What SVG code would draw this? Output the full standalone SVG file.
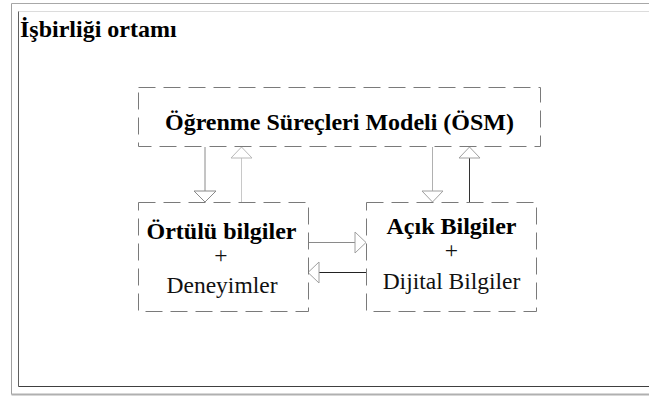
<svg xmlns="http://www.w3.org/2000/svg" width="649" height="396" viewBox="0 0 649 396">
  <style>
    .box { fill: #ffffff; stroke: #7a7a7a; stroke-width: 1; stroke-dasharray: 17 8; }
    .bold { font-weight: bold; fill: #000000; }
    .reg { fill: #111111; }
    .head { fill: #ffffff; stroke-width: 1; }
  </style>
  <rect width="649" height="396" fill="#ffffff"/>

  <!-- outer frame -->
  <g id="frame">
    <line x1="11.5" y1="3.5" x2="649" y2="3.5" stroke="#a8a8a8"/>
    <line x1="11.5" y1="3.5" x2="11.5" y2="394.5" stroke="#a0a0a0"/>
    <line x1="11.5" y1="394.5" x2="649" y2="394.5" stroke="#b0b0b0" stroke-width="2"/>
    <line x1="18.5" y1="11.5" x2="649" y2="11.5" stroke="#dcdcdc"/>
    <line x1="18.5" y1="11.5" x2="18.5" y2="386.5" stroke="#606060"/>
    <line x1="18.5" y1="386.5" x2="649" y2="386.5" stroke="#404040"/>
    <text class="bold" x="20" y="37" font-size="24" font-family="Liberation Serif, DejaVu Serif, serif">İşbirliği ortamı</text>
  </g>

  <!-- connectors -->
  <g id="connectors">
    <!-- ÖSM -> Örtülü bilgiler -->
    <line x1="205" y1="147" x2="205" y2="191" stroke="#8a8a8a"/>
    <polygon class="head" points="194,191 216,191 205,202" stroke="#8a8a8a"/>
    <!-- Örtülü bilgiler -> ÖSM -->
    <line x1="241.5" y1="202" x2="241.5" y2="158" stroke="#c8c8c8"/>
    <polygon class="head" points="231,158 252,158 241.5,147" stroke="#b8b8b8"/>
    <!-- ÖSM -> Açık Bilgiler -->
    <line x1="432.5" y1="147" x2="432.5" y2="191" stroke="#b0b0b0"/>
    <polygon class="head" points="422,191 443,191 432.5,202" stroke="#a0a0a0"/>
    <!-- Açık Bilgiler -> ÖSM -->
    <line x1="469.5" y1="202" x2="469.5" y2="158" stroke="#333333"/>
    <polygon class="head" points="459,158 480,158 469.5,147" stroke="#a0a0a0"/>
    <!-- Örtülü bilgiler -> Açık Bilgiler -->
    <line x1="308" y1="242.5" x2="355" y2="242.5" stroke="#8a8a8a"/>
    <polygon class="head" points="355,232 355,253 366,242.5" stroke="#a0a0a0"/>
    <!-- Açık Bilgiler -> Örtülü bilgiler -->
    <line x1="366" y1="272.5" x2="319" y2="272.5" stroke="#222222"/>
    <polygon class="head" points="319,262 319,283 308,272.5" stroke="#a0a0a0"/>
  </g>

  <g id="osm">
    <rect class="box" x="138.5" y="87.5" width="402" height="59"/>
    <text class="bold" x="339.5" y="130" font-size="24" text-anchor="middle" font-family="Liberation Serif, DejaVu Serif, serif">Öğrenme Süreçleri Modeli (ÖSM)</text>
  </g>

  <g id="ortulu">
    <rect class="box" x="138.5" y="202.5" width="170" height="109"/>
    <text class="bold" x="221.5" y="239" font-size="24" text-anchor="middle" font-family="Liberation Serif, DejaVu Serif, serif">Örtülü bilgiler</text>
    <text class="reg" x="221" y="263" font-size="23.5" text-anchor="middle" font-family="Liberation Serif, DejaVu Serif, serif">+</text>
    <text class="reg" x="222" y="292.5" font-size="23.5" text-anchor="middle" font-family="Liberation Serif, DejaVu Serif, serif">Deneyimler</text>
  </g>

  <g id="acik">
    <rect class="box" x="366.5" y="202.5" width="170" height="109"/>
    <text class="bold" x="451.5" y="233.5" font-size="24" text-anchor="middle" font-family="Liberation Serif, DejaVu Serif, serif">Açık Bilgiler</text>
    <text class="reg" x="451.5" y="258" font-size="23.5" text-anchor="middle" font-family="Liberation Serif, DejaVu Serif, serif">+</text>
    <text class="reg" x="451.5" y="289" font-size="23.5" text-anchor="middle" font-family="Liberation Serif, DejaVu Serif, serif">Dijital Bilgiler</text>
  </g>
</svg>
